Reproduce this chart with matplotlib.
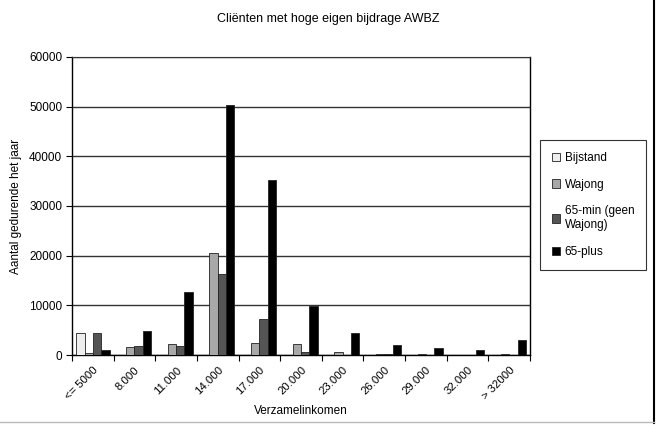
import numpy as np
import matplotlib.pyplot as plt
from matplotlib.lines import Line2D

plt.rcParams['font.family'] = ['Liberation Sans', 'DejaVu Sans']

categories = ['<= 5000', '8.000', '11.000', '14.000', '17.000', '20.000',
              '23.000', '26.000', '29.000', '32.000', '> 32000']
series_names = ['Bijstand', 'Wajong', '65-min (geen\nWajong)', '65-plus']
bijstand = [4400, 0, 0, 0, 0, 0, 0, 0, 0, 0, 0]
wajong = [350, 1700, 2250, 20600, 2500, 2250, 550, 300, 250, 100, 200]
min65 = [4400, 1900, 1850, 16300, 7150, 650, 100, 150, 50, 50, 100]
plus65 = [1100, 4800, 12600, 50300, 35300, 9900, 4450, 2100, 1450, 1100, 3100]
colors = ['#eeeeee', '#a8a8a8', '#555555', '#000000']

data = [bijstand, wajong, min65, plus65]

fig = plt.figure(figsize=(6.56, 4.25), dpi=100)
ax = fig.add_axes([0.1098, 0.1647, 0.808 - 0.1098, 0.8659 - 0.1647])

x = np.arange(len(categories))
w = 0.2
for i, vals in enumerate(data):
    ax.bar(x - 0.3 + i * w, vals, width=w, color=colors[i], edgecolor='#222222',
           linewidth=0.6, label=series_names[i], zorder=3)

ax.set_xlim(-0.5, len(categories) - 0.5)
ax.set_ylim(0, 60000)
ax.set_yticks(np.arange(0, 60001, 10000))
ax.yaxis.grid(True, color='#333333', linewidth=1.0, zorder=0)
ax.tick_params(axis='y', direction='out', length=4, labelsize=8.5, pad=3)

# ticks between groups, labels at group centres
ax.set_xticks(np.arange(-0.5, len(categories), 1.0))
ax.set_xticklabels([])
ax.set_xticks(x, minor=True)
ax.set_xticklabels(categories, minor=True, rotation=45, ha='right',
                   rotation_mode='anchor', fontsize=8.2)
ax.tick_params(axis='x', which='major', direction='out', length=4)
ax.tick_params(axis='x', which='minor', length=0, pad=7)

for s in ['left', 'bottom', 'right']:
    ax.spines[s].set_color('black')
    ax.spines[s].set_linewidth(1.0)
ax.spines['top'].set_color('#333333')

ax.set_ylabel('Aantal gedurende het jaar', fontsize=8.5)
ax.yaxis.set_label_coords(-0.11, 0.5)
ax.set_xlabel('Verzamelinkomen', fontsize=8.5)
ax.xaxis.set_label_coords(0.5, -0.168)
fig.text(0.5, 0.955, 'Cliënten met hoge eigen bijdrage AWBZ', ha='center',
         va='center', fontsize=9)

leg = ax.legend(loc='upper left', bbox_to_anchor=(0.823, 0.6706),
                bbox_transform=fig.transFigure, fontsize=8.5, frameon=True,
                fancybox=False, edgecolor='black', handlelength=0.7,
                handleheight=0.7, handletextpad=0.4, labelspacing=1.25,
                borderpad=1.0, borderaxespad=0)
leg.get_frame().set_linewidth(0.8)

fig.add_artist(Line2D([0.997, 0.997], [0.005, 1.0], transform=fig.transFigure,
                      color='black', linewidth=1.5))
fig.add_artist(Line2D([0.0, 0.997], [0.006, 0.006], transform=fig.transFigure,
                      color='#bbbbbb', linewidth=1.0))

plt.savefig('out.png', dpi=100)
